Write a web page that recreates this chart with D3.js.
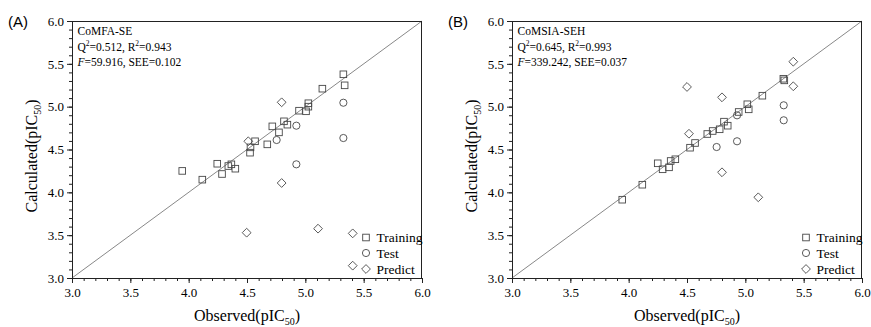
<!DOCTYPE html>
<html>
<head>
<meta charset="utf-8">
<script src="https://cdn.jsdelivr.net/npm/d3@7"></script>
<style>
  html, body { margin: 0; padding: 0; background: #fff; }
  svg { display: block; }
</style>
</head>
<body>
<svg id="chart" width="871" height="327"></svg>
<script>
// ---- data: [observed, calculated] ----
const trainingA = [
  [3.945, 4.25], [4.117, 4.148], [4.245, 4.334], [4.286, 4.214], [4.34, 4.307],
  [4.366, 4.327], [4.40, 4.276], [4.526, 4.463], [4.53, 4.525], [4.569, 4.596],
  [4.674, 4.56], [4.717, 4.77], [4.774, 4.70], [4.817, 4.829], [4.846, 4.79],
  [4.946, 4.953], [5.006, 4.946], [5.026, 5.04], [5.026, 5.0], [5.146, 5.21],
  [5.326, 5.378], [5.337, 5.249]
];
const testA = [
  [4.923, 4.778], [4.754, 4.611], [4.923, 4.327], [5.326, 5.046], [5.326, 4.634]
];
const predictA = [
  [4.797, 5.051], [4.797, 4.109], [4.511, 4.596], [4.497, 3.529],
  [5.109, 3.576], [5.406, 3.521], [5.406, 3.144]
];
const trainingB = [
  [3.945, 3.914], [4.117, 4.089], [4.249, 4.339], [4.291, 4.269], [4.346, 4.292],
  [4.36, 4.366], [4.40, 4.386], [4.526, 4.521], [4.569, 4.576], [4.674, 4.681],
  [4.72, 4.716], [4.78, 4.736], [4.817, 4.825], [4.849, 4.778], [4.943, 4.938],
  [5.017, 5.028], [5.029, 4.969], [5.146, 5.128], [5.326, 5.326], [5.334, 5.307]
];
const testB = [
  [4.929, 4.899], [4.754, 4.529], [4.929, 4.596], [5.329, 5.016], [5.329, 4.841]
];
const predictB = [
  [4.50, 5.23], [4.80, 5.109], [4.517, 4.684], [4.80, 4.234],
  [5.111, 3.942], [5.411, 5.525], [5.411, 5.238]
];
const majorTicks = [3.0, 3.5, 4.0, 4.5, 5.0, 5.5, 6.0];
const minorTicks = d3.range(30, 61).map(v => v / 10);
const legendLabels = ["Training", "Test", "Predict"];
const panelLabels = ["(A)", "(B)"];
const modelNames = ["CoMFA-SE", "CoMSIA-SEH"];
const q2Values = ["0.512", "0.645"];
const r2Values = ["0.943", "0.993"];
const fValues = ["59.916", "339.242"];
const seeValues = ["0.102", "0.037"];

// ---- drawing ----
const svg = d3.select("#chart");
const serif = "'Liberation Serif', 'Times New Roman', serif";
const markColor = "#474747";
const textColor = "#000";

const panels = [
  { left: 72, training: trainingA, test: testA, predict: predictA },
  { left: 512, training: trainingB, test: testB, predict: predictB }
];
const plotTop = 21, plotBottom = 278, plotWidth = 350;

function drawMarker(g, type, x, y) {
  if (type === "square") {
    g.append("rect").attr("x", x - 3.3).attr("y", y - 3.3)
      .attr("width", 6.6).attr("height", 6.6)
      .attr("fill", "none").attr("stroke", markColor).attr("stroke-width", 0.9);
  } else if (type === "circle") {
    g.append("circle").attr("cx", x).attr("cy", y).attr("r", 3.6)
      .attr("fill", "none").attr("stroke", markColor).attr("stroke-width", 0.9);
  } else {
    const s = 4.4;
    g.append("path").attr("d", `M${x},${y - s}L${x + s},${y}L${x},${y + s}L${x - s},${y}Z`)
      .attr("fill", "none").attr("stroke", markColor).attr("stroke-width", 0.9);
  }
}

panels.forEach((p, i) => {
  const x = d3.scaleLinear().domain([3, 6]).range([p.left, p.left + plotWidth]);
  const y = d3.scaleLinear().domain([3, 6]).range([plotBottom, plotTop]);
  const g = svg.append("g");

  // diagonal line
  g.append("line")
    .attr("x1", x(3)).attr("y1", y(3)).attr("x2", x(6)).attr("y2", y(6))
    .attr("stroke", "#888").attr("stroke-width", 1);

  // minor ticks
  const xMinor = d3.axisBottom(x).tickValues(minorTicks).tickSize(3).tickFormat("");
  const yMinor = d3.axisLeft(y).tickValues(minorTicks).tickSize(3).tickFormat("");
  g.append("g").attr("transform", `translate(0,${plotBottom})`).call(xMinor)
    .call(a => a.select(".domain").remove())
    .selectAll("line").attr("stroke", "#222");
  g.append("g").attr("transform", `translate(${p.left},0)`).call(yMinor)
    .call(a => a.select(".domain").remove())
    .selectAll("line").attr("stroke", "#222");

  // major axes
  const xAxis = d3.axisBottom(x).tickValues(majorTicks).tickSize(5).tickSizeOuter(0)
    .tickFormat(d3.format(".1f")).tickPadding(5);
  const yAxis = d3.axisLeft(y).tickValues(majorTicks).tickSize(5).tickSizeOuter(0)
    .tickFormat(d3.format(".1f")).tickPadding(3);
  const xg = g.append("g").attr("transform", `translate(0,${plotBottom})`).call(xAxis);
  const yg = g.append("g").attr("transform", `translate(${p.left},0)`).call(yAxis);
  [xg, yg].forEach(a => {
    a.select(".domain").attr("stroke", "#222").attr("stroke-width", 1);
    a.selectAll(".tick line").attr("stroke", "#222");
    a.selectAll("text").attr("font-family", serif).attr("font-size", 13).attr("fill", textColor);
  });

  // frame top and right
  g.append("line").attr("x1", p.left).attr("x2", p.left + plotWidth)
    .attr("y1", plotTop + 0.5).attr("y2", plotTop + 0.5).attr("stroke", "#222");
  g.append("line").attr("x1", p.left + plotWidth - 0.5).attr("x2", p.left + plotWidth - 0.5)
    .attr("y1", plotTop).attr("y2", plotBottom).attr("stroke", "#222");

  // points
  p.training.forEach(d => drawMarker(g, "square", x(d[0]), y(d[1])));
  p.test.forEach(d => drawMarker(g, "circle", x(d[0]), y(d[1])));
  p.predict.forEach(d => drawMarker(g, "diamond", x(d[0]), y(d[1])));

  // annotation text
  const ax = p.left + 5.5;
  const ann = g.append("g").attr("font-family", serif).attr("font-size", 11.5).attr("fill", textColor);
  ann.append("text").attr("x", ax).attr("y", 34.5).text(modelNames[i]);
  const t2 = ann.append("text").attr("x", ax).attr("y", 50.5);
  t2.append("tspan").text("Q");
  t2.append("tspan").attr("font-size", 7.5).attr("dy", -4.5).text("2");
  t2.append("tspan").attr("dy", 4.5).text("=" + q2Values[i] + ", R");
  t2.append("tspan").attr("font-size", 7.5).attr("dy", -4.5).text("2");
  t2.append("tspan").attr("dy", 4.5).text("=" + r2Values[i]);
  const t3 = ann.append("text").attr("x", ax).attr("y", 66);
  t3.append("tspan").attr("font-style", "italic").text("F");
  t3.append("tspan").text("=" + fValues[i] + ", SEE=" + seeValues[i]);

  // legend
  const types = ["square", "circle", "diamond"];
  const lx = p.left + 294, ly = [237.5, 253, 269];
  legendLabels.forEach((lab, k) => {
    drawMarker(g, types[k], lx, ly[k]);
    g.append("text").attr("x", lx + 10.5).attr("y", ly[k] + 4.5)
      .attr("font-family", serif).attr("font-size", 13.5).attr("fill", textColor).text(lab);
  });

  // axis titles
  const xt = g.append("text").attr("x", p.left + plotWidth / 2).attr("y", 321)
    .attr("text-anchor", "middle").attr("font-family", serif).attr("font-size", 16).attr("fill", textColor);
  xt.append("tspan").text("Observed(pIC");
  xt.append("tspan").attr("font-size", 10).attr("dy", 4).text("50");
  xt.append("tspan").attr("dy", -4).text(")");

  const ytx = p.left - 35, yty = 156;
  const yt = g.append("text").attr("transform", `translate(${ytx},${yty}) rotate(-90)`)
    .attr("text-anchor", "middle").attr("font-family", serif).attr("font-size", 16).attr("fill", textColor);
  yt.append("tspan").text("Calculated(pIC");
  yt.append("tspan").attr("font-size", 10).attr("dy", 4).text("50");
  yt.append("tspan").attr("dy", -4).text(")");

  // panel label
  g.append("text").attr("x", p.left - 64).attr("y", 27)
    .attr("font-family", "'Liberation Sans', Arial, sans-serif").attr("font-size", 15)
    .attr("fill", "#000").text(panelLabels[i]);
});
</script>
</body>
</html>
